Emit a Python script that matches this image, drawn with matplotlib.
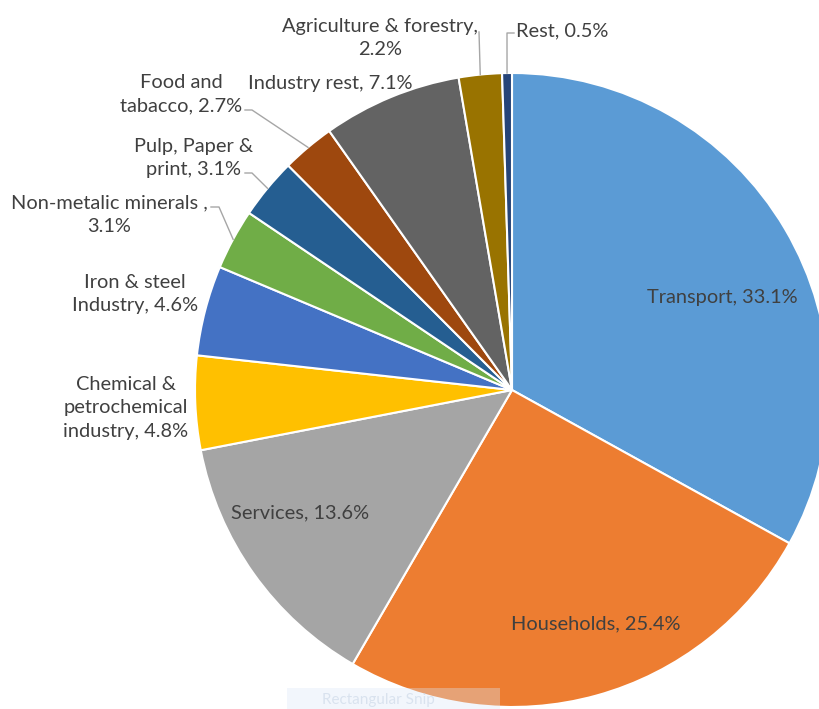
import numpy as np
import matplotlib
matplotlib.use("Agg")
import matplotlib.pyplot as plt
from matplotlib.patches import Rectangle

# ---------------------------------------------------------------------------
# Data
# ---------------------------------------------------------------------------
SECTORS = [
    "Transport", "Households", "Services",
    "Chemical &\npetrochemical\nindustry", "Iron & steel\nIndustry",
    "Non-metalic minerals ,\n", "Pulp, Paper &\nprint", "Food and\ntabacco",
    "Industry rest", "Agriculture & forestry,\n", "Rest",
]
SHARES = [33.1, 25.4, 13.6, 4.8, 4.6, 3.1, 3.1, 2.7, 7.1, 2.2, 0.5]
COLOURS = ["#5b9bd5", "#ed7d31", "#a5a5a5", "#ffc000", "#4472c4", "#70ad47",
           "#255e91", "#9e480e", "#636363", "#997300", "#264478"]

# label centres in pixel coords (image y from top), and optional leader start
LABEL_POS = [(722, 298), (596, 624), (300, 513), (126, 408), (135, 294),
             (109, 215), (194, 158), (181, 94), (330, 84), (380, 38), (562, 31)]
LEADER_START = {5: [(211, 207), (219, 207)],
                6: [(245, 173), (252, 173)],
                7: [(245, 110), (252, 110)],
                9: [(479, 32)],
                10: [(514, 33), (507, 33)]}

W, H = 820, 709
CX, CY, R = 512, 390, 317
TEXT_COL = "#404040"
LINE_COL = "#a6a6a6"

plt.rcParams["font.family"] = ["Lato", "DejaVu Sans"]

fig = plt.figure(figsize=(W / 100, H / 100), dpi=100)
ax = fig.add_axes([0, 0, 1, 1])

wedges, _ = ax.pie(SHARES, colors=COLOURS, startangle=90, counterclock=False,
                   center=(CX, H - CY), radius=R, frame=True,
                   wedgeprops=dict(edgecolor="white", linewidth=1.5))
ax.set_xlim(0, W)
ax.set_ylim(0, H)
ax.set_aspect("equal")
ax.axis("off")

for i, (name, val) in enumerate(zip(SECTORS, SHARES)):
    if name.endswith("\n"):
        label = f"{name}{val}%"
    else:
        label = f"{name}, {val}%"
    lx, ly = LABEL_POS[i]
    ax.text(lx, H - ly, label, ha="center", va="center", fontsize=14.4,
            color=TEXT_COL, linespacing=1.48)

    if i in LEADER_START:
        w = wedges[i]
        ang = np.deg2rad((w.theta1 + w.theta2) / 2)
        ex = CX + R * np.cos(ang)
        ey = (H - CY) + R * np.sin(ang)
        pts = LEADER_START[i]
        xs = [p[0] for p in pts] + [ex]
        ys = [H - p[1] for p in pts] + [ey]
        ax.plot(xs, ys, color=LINE_COL, linewidth=1.0, zorder=1)

# faint screen-snip watermark at the bottom
ax.add_patch(Rectangle((287, 0), 213, 21, facecolor="#dbe8f7", alpha=0.35,
                       edgecolor="none", zorder=5))
ax.text(322, 9, "Rectangular Snip", fontsize=11, color="#c9d6e6", alpha=0.6,
        va="center", ha="left", zorder=6)

fig.savefig("out.png", dpi=100, facecolor="white")
